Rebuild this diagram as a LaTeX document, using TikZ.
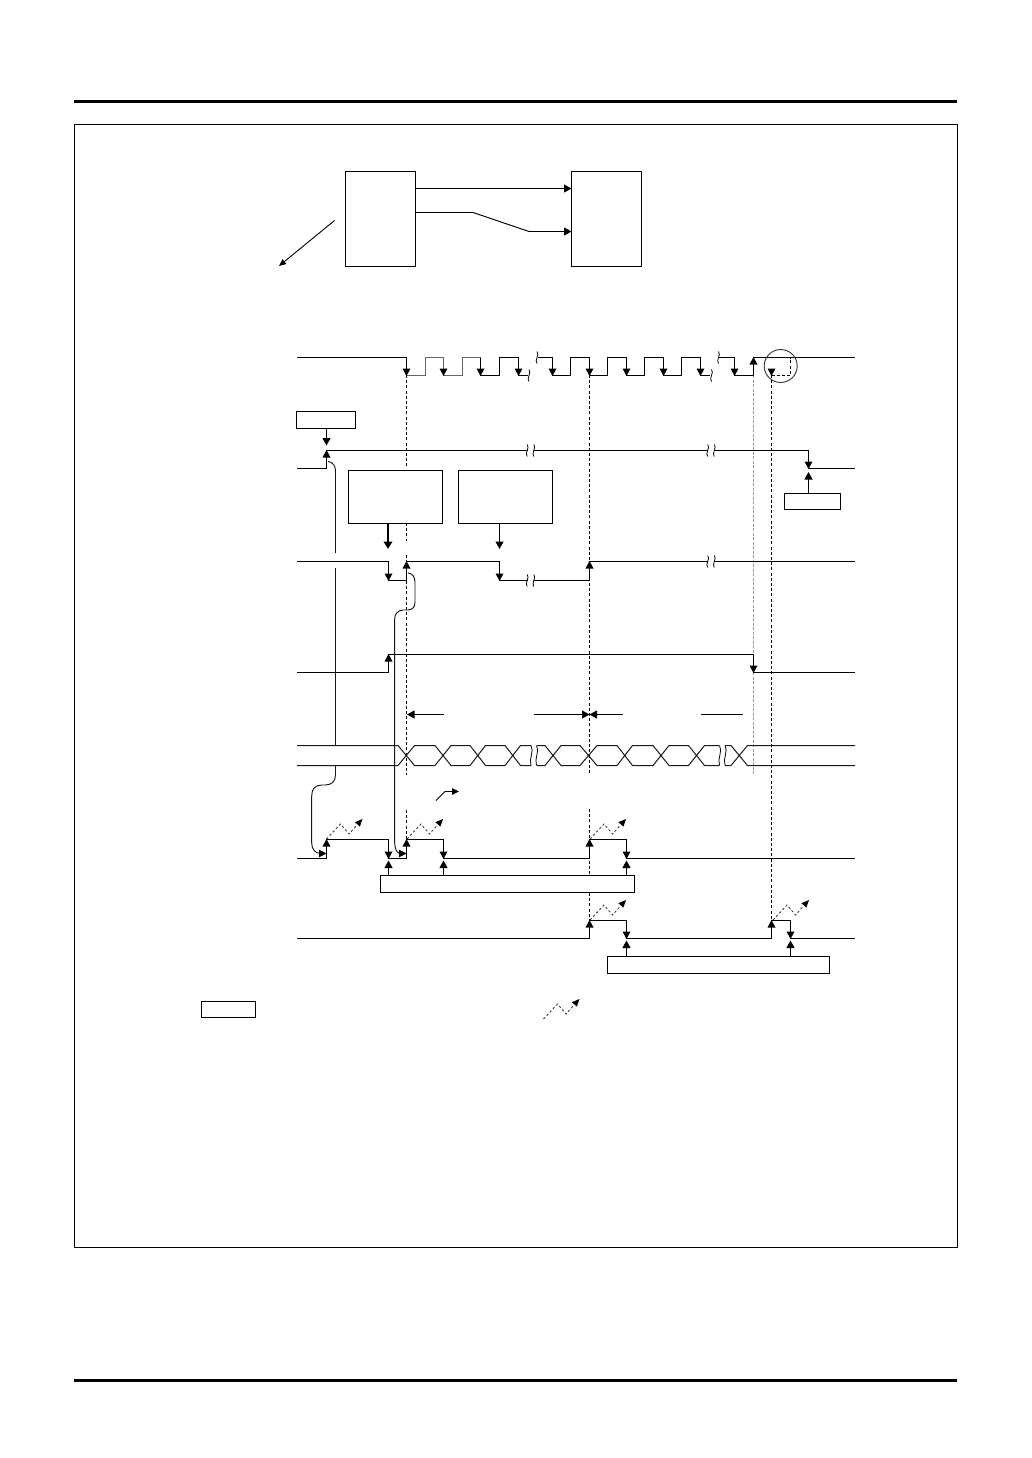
\documentclass[tikz,border=0pt]{standalone}
\usetikzlibrary{arrows.meta}
\tikzset{
  x=1pt,y=-1pt,
  sig/.style={line width=1.1pt,line cap=butt,line join=miter,black},
  curve sig/.style={line width=0.95pt,black!90},
  tipped/.style={line width=1.1pt,-{Triangle[length=7.5pt,width=8pt]}},
  thick tipped/.style={line width=2pt,-{Triangle[length=7.5pt,width=8.5pt]}},
  boxed/.style={draw,line width=1.1pt,fill=white,inner sep=0pt,outer sep=0pt,anchor=north west},
  guide/.style={line width=0.9pt,dash pattern=on 3pt off 2.2pt},
  grayguide/.style={line width=1.5pt,black!40,dash pattern=on 3pt off 1.5pt},
  zig/.style={line width=0.8pt,black!80,dash pattern=on 2.4pt off 2.2pt},
  wavy/.style={line width=0.8pt,black},
  rule/.style={line width=3pt},
}
\newcommand{\tipdown}[2]{\fill (#1,#2) -- ++(-4,-7.5) -- ++(8,0) -- cycle;}
\newcommand{\tipup}[2]{\fill (#1,#2) -- ++(-4,7.5) -- ++(8,0) -- cycle;}
% two-stroke break mark across a horizontal line
\newcommand{\brk}[2]{%
  \fill[white] (#1-3,#2-1.2) rectangle (#1+3,#2+1.2);
  \draw[wavy] (#1-3.3,#2-6) .. controls (#1-0.3,#2-3) and (#1-6.3,#2+3) .. (#1-3.3,#2+6);
  \draw[wavy] (#1+3.3,#2-6) .. controls (#1+6.3,#2-3) and (#1+0.3,#2+3) .. (#1+3.3,#2+6);}
% single break stroke
\newcommand{\one}[2]{%
  \draw[wavy] (#1,#2-6) .. controls (#1+3,#2-3) and (#1-3,#2+3) .. (#1,#2+6);}
\newcommand{\zigzag}[2]{%
  \draw[zig] (#1,#2) -- ++(14,-15) -- ++(8.5,10) -- ++(8,-9);
  \fill (#1+36,#2-20) -- ++(-2.6,7.6) -- ++(-5,-4.4) -- cycle;}
\begin{document}
\begin{tikzpicture}
\useasboundingbox (0,0) rectangle (1032,1458);
\fill[white] (0,0) rectangle (1032,1458);

% page furniture
\draw[rule] (74,101.5) -- (957,101.5);
\draw[rule] (74,1380.5) -- (957,1380.5);
\draw[line width=1.1pt] (74.5,124.5) rectangle (957.5,1247.5);

% block diagram
\node[boxed,minimum width=70pt,minimum height=95pt] (master) at (345.5,171.5) {};
\node[boxed,minimum width=70pt,minimum height=95pt] (slave) at (571.5,171.5) {};
\coordinate (m1) at (415.5,188.5);
\coordinate (s1) at (571.5,188.5);
\coordinate (m2) at (415.5,212.5);
\coordinate (s2) at (571.5,231.5);
\draw[tipped] (m1) -- (s1);
\draw[tipped,line width=0.95pt] (m2) -- (473,212.5) -- (529,231.5) -- (s2);
\coordinate (dfrom) at (334.5,220.5);
\coordinate (dto) at (279,266);
\draw[line width=0.9pt,-{Triangle[length=7pt,width=6pt]}] (dfrom) -- (dto);

% guides (behind the waveforms)
\draw[guide] (406.5,375) -- (406.5,467);
\draw[guide] (406.5,523) -- (406.5,541);
\draw[guide] (406.5,555) -- (406.5,775);
\draw[guide] (406.5,810) -- (406.5,840);
\draw[guide] (589.5,375) -- (589.5,775);
\draw[guide] (589.5,809) -- (589.5,875);
\draw[guide] (589.5,893) -- (589.5,920);
\draw[grayguide] (753.5,357) -- (753.5,775);
\draw[guide] (771.5,375) -- (771.5,920);

% SCL clock
\draw[sig] (297,357.5) -- (406.5,357.5) -- (406.5,375.5);
\draw[sig,black!60] (406.5,375.5) -- (425.5,375.5) -- (425.5,357.5) -- (443.5,357.5) -- (443.5,375.5)
   -- (462.5,375.5) -- (462.5,357.5) -- (480.5,357.5);
\draw[sig] (480.5,357.5) -- (480.5,375.5) -- (499.5,375.5) -- (499.5,357.5) -- (518.5,357.5) -- (518.5,375.5) -- (528,375.5);
\one{529}{375.5}
\one{537}{357.5}
\draw[sig] (538,357.5) -- (552.5,357.5) -- (552.5,375.5) -- (570.5,375.5) -- (570.5,357.5) -- (589.5,357.5) -- (589.5,375.5)
   -- (607.5,375.5) -- (607.5,357.5) -- (626.5,357.5) -- (626.5,375.5) -- (644.5,375.5) -- (644.5,357.5)
   -- (663.5,357.5) -- (663.5,375.5) -- (681.5,375.5) -- (681.5,357.5) -- (700.5,357.5) -- (700.5,375.5) -- (710,375.5);
\one{711.5}{375.5}
\one{718.5}{357.5}
\draw[sig] (719,357.5) -- (734.5,357.5) -- (734.5,375.5) -- (753.5,375.5) -- (753.5,357.5) -- (855,357.5);
\foreach \x in {406.5,443.5,480.5,518.5,552.5,589.5,626.5,663.5,700.5,734.5,771.5} {\tipdown{\x}{376}}
\tipup{753.5}{357}
\draw[guide] (771.5,375.5) -- (790.5,375.5) -- (790.5,357.5);
\draw[line width=0.9pt,black!80] (780.7,366) circle[radius=16.5];

% SDA-start row
\node[boxed,minimum width=59pt,minimum height=17pt] (stcond) at (296.5,411.5) {};
\coordinate (stt) at (326.5,445.5);
\draw[tipped] (stcond.south -| stt) -- (stt);
\draw[sig] (297,468.5) -- (326.5,468.5) -- (326.5,450.5) -- (808.5,450.5) -- (808.5,468.5) -- (855,468.5);
\tipup{326.5}{450}
\tipdown{808.5}{469}
\brk{530.5}{450.5}
\brk{711}{450.5}
\node[boxed,minimum width=56pt,minimum height=16pt] (spcond) at (784.5,493.5) {};
\coordinate (spt) at (808.5,472);
\draw[tipped] (spcond.north -| spt) -- (spt);

% instruction boxes
\node[boxed,minimum width=94pt,minimum height=53pt] (instA) at (348.5,470.5) {};
\node[boxed,minimum width=94pt,minimum height=53pt] (instB) at (458.5,470.5) {};
\coordinate (ia) at (388,549);
\coordinate (ib) at (499.5,549);
\draw[thick tipped] (instA.south -| ia) -- (ia);
\draw[tipped] (instB.south -| ib) -- (ib);

% row 4
\draw[sig] (297,561.5) -- (388.5,561.5) -- (388.5,580.5) -- (406.5,580.5) -- (406.5,561.5) -- (499.5,561.5)
   -- (499.5,580.5) -- (589.5,580.5) -- (589.5,561.5) -- (855,561.5);
\tipdown{388.5}{581}
\tipup{406.5}{561}
\tipdown{499.5}{581}
\tipup{589.5}{561}
\brk{530.5}{580.5}
\brk{711}{561.5}

% row 5
\draw[sig] (297,672.5) -- (388.5,672.5) -- (388.5,654.5) -- (753.5,654.5) -- (753.5,672.5) -- (855,672.5);
\tipup{388.5}{654}
\tipdown{753.5}{673}

% curved flow from row 3 to row 6
\draw[curve sig] (328,461.5) .. controls (333,462) and (335.5,466) .. (335.5,471) -- (335.5,553);
\draw[curve sig] (335.5,568) -- (335.5,745);
\draw[curve sig] (335.5,765.5) -- (335.5,775) .. controls (335.5,782) and (331,785) .. (325,785)
   -- (322,785) .. controls (315,785) and (311.7,789) .. (311.7,796) -- (311.7,843)
   .. controls (311.7,849) and (315,853) .. (320,853.5);
\fill (326.5,853.5) -- ++(-7.5,-3.8) -- ++(0,7.6) -- cycle;

% curved flow from row 4 to row 6
\draw[curve sig] (408,573) .. controls (412.5,573.5) and (415,577) .. (415,582) -- (415,602)
   .. controls (415,607) and (413,609.5) .. (408,610) -- (403,610)
   .. controls (397.5,610.5) and (394.7,614) .. (394.7,619) -- (394.7,843)
   .. controls (394.7,849) and (397,853) .. (400,853.5);
\fill (406.5,853.5) -- ++(-7.5,-3.8) -- ++(0,7.6) -- cycle;

% interval arrows
\coordinate (ar1) at (407,714.5);
\coordinate (ar2) at (589.5,714.5);
\draw[tipped] (444,714.5) -- (ar1);
\draw[tipped] (534,714.5) -- (ar2);
\draw[tipped] (623,714.5) -- (ar2);
\draw[line width=1.1pt] (701,714.5) -- (743,714.5);

% data row
\def\yt{745.5}\def\yb{765.5}
\draw[line width=1pt,black!90,line join=bevel]
  (297,\yt) -- (398,\yt) -- (414.5,\yb) -- (435,\yb) -- (451,\yt) -- (470,\yt) -- (485.5,\yb)
  -- (505,\yb) -- (520.5,\yt) -- (531,\yt)
  (297,\yb) -- (398,\yb) -- (414.5,\yt) -- (435,\yt) -- (451,\yb) -- (470,\yb) -- (485.5,\yt)
  -- (505,\yt) -- (520.5,\yb) -- (531,\yb);
\draw[line width=1pt,black!90,line join=bevel]
  (537,\yt) -- (545,\yt) -- (561,\yb) -- (580,\yb) -- (597,\yt) -- (617,\yt) -- (632.5,\yb)
  -- (653,\yb) -- (669,\yt) -- (688.5,\yt) -- (704.5,\yb) -- (719,\yb)
  (537,\yb) -- (545,\yb) -- (561,\yt) -- (580,\yt) -- (597,\yb) -- (617,\yb) -- (632.5,\yt)
  -- (653,\yt) -- (669,\yb) -- (688.5,\yb) -- (704.5,\yt) -- (719,\yt);
\draw[line width=1pt,black!90,line join=bevel]
  (725,\yt) -- (731,\yt) -- (747.5,\yb) -- (855,\yb)
  (725,\yb) -- (731,\yb) -- (747.5,\yt) -- (855,\yt);
\foreach \x in {531,536.5,719.5,725}{
  \draw[wavy] (\x,\yt) .. controls (\x+3.5,\yt+6) and (\x-2.5,\yt+13) .. (\x,\yb);}

% small direction mark
\coordinate (dm) at (459,791.5);
\draw[line width=0.9pt,-{Triangle[length=7pt,width=6.5pt]}] (436,800.5) -- (445,791.5) -- (dm);

% row 6
\draw[sig] (297,858.5) -- (326.5,858.5) -- (326.5,839.5) -- (388.5,839.5) -- (388.5,858.5) -- (406.5,858.5)
  -- (406.5,839.5) -- (443.5,839.5) -- (443.5,858.5) -- (589.5,858.5) -- (589.5,839.5) -- (626.5,839.5)
  -- (626.5,858.5) -- (855,858.5);
\foreach \x in {326.5,406.5,589.5}{\tipup{\x}{839}}
\foreach \x in {388.5,443.5,626.5}{\tipdown{\x}{859}}
\zigzag{326.5}{839}
\zigzag{407}{839}
\zigzag{590}{839}
\node[boxed,minimum width=254pt,minimum height=17pt] (ack1) at (380.5,875.5) {};
\foreach \n/\x in {a/388.5,b/443.5,c/626.5}{
  \coordinate (ack\n) at (\x,860.5);
  \draw[tipped] (ack1.north -| ack\n) -- (ack\n);}

% row 7
\draw[sig] (297,938.5) -- (589.5,938.5) -- (589.5,920.5) -- (626.5,920.5) -- (626.5,938.5) -- (771.5,938.5)
  -- (771.5,920.5) -- (790.5,920.5) -- (790.5,938.5) -- (855,938.5);
\foreach \x in {589.5,771.5}{\tipup{\x}{920}}
\foreach \x in {626.5,790.5}{\tipdown{\x}{939}}
\zigzag{590}{920}
\zigzag{773}{920}
\node[boxed,minimum width=222pt,minimum height=17pt] (ack2) at (607.5,956.5) {};
\foreach \n/\x in {d/626.5,e/790.5}{
  \coordinate (ack\n) at (\x,940.5);
  \draw[tipped] (ack2.north -| ack\n) -- (ack\n);}

% legend
\node[boxed,minimum width=54pt,minimum height=16pt] (lgbox) at (201.5,1001.5) {};
\zigzag{543.5}{1019}
\end{tikzpicture}
\end{document}
